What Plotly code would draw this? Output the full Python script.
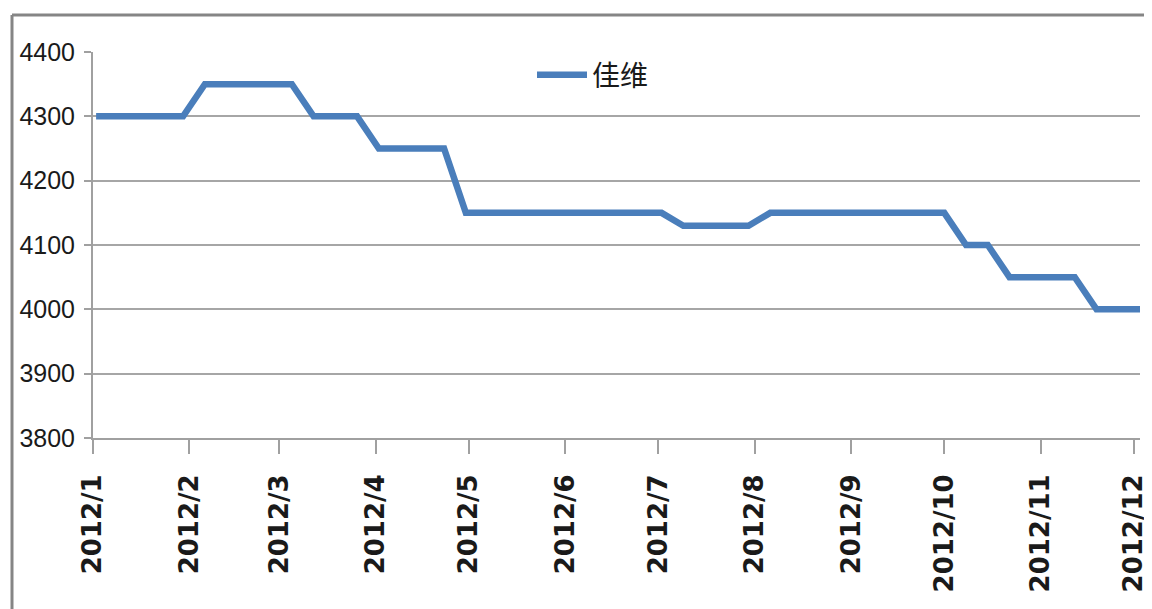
import plotly.graph_objects as go

series_name = "佳维"
dates = [
    "2012-01-02", "2012-01-09", "2012-01-16", "2012-01-23", "2012-01-30",
    "2012-02-06", "2012-02-13", "2012-02-20", "2012-02-27", "2012-03-05",
    "2012-03-12", "2012-03-19", "2012-03-26",
    "2012-04-02", "2012-04-09", "2012-04-16", "2012-04-23",
    "2012-04-30", "2012-05-07", "2012-05-14", "2012-05-21", "2012-05-28",
    "2012-06-04", "2012-06-11", "2012-06-18", "2012-06-25", "2012-07-02",
    "2012-07-09", "2012-07-16", "2012-07-23", "2012-07-30",
    "2012-08-06", "2012-08-13", "2012-08-20", "2012-08-27", "2012-09-03",
    "2012-09-10", "2012-09-17", "2012-09-24", "2012-10-01",
    "2012-10-08", "2012-10-15",
    "2012-10-22", "2012-10-29", "2012-11-05", "2012-11-12",
    "2012-11-19", "2012-11-26", "2012-12-03",
]
values = [
    4300, 4300, 4300, 4300, 4300,
    4350, 4350, 4350, 4350, 4350,
    4300, 4300, 4300,
    4250, 4250, 4250, 4250,
    4150, 4150, 4150, 4150, 4150,
    4150, 4150, 4150, 4150, 4150,
    4130, 4130, 4130, 4130,
    4150, 4150, 4150, 4150, 4150,
    4150, 4150, 4150, 4150,
    4100, 4100,
    4050, 4050, 4050, 4050,
    4000, 4000, 4000,
]
tick_dates = ["2012-01-01", "2012-02-01", "2012-03-01", "2012-04-01",
              "2012-05-01", "2012-06-01", "2012-07-01", "2012-08-01",
              "2012-09-01", "2012-10-01", "2012-11-01", "2012-12-01"]
tick_labels = ["2012/1", "2012/2", "2012/3", "2012/4", "2012/5", "2012/6",
               "2012/7", "2012/8", "2012/9", "2012/10", "2012/11", "2012/12"]

fig = go.Figure()
fig.add_trace(go.Scatter(
    x=dates, y=values, mode="lines", name=series_name,
    line=dict(color="#4a7ebb", width=6.5),
))

# page is rendered with an 8px body margin; work in page pixels and convert
OFF = 8
W, H = 1152 - OFF, 609 - OFF
L, R, T, B = 93 - OFF, 12, 52 - OFF, 171
pw, ph = W - L - R, H - T - B

def px_x(x):
    return (x - OFF - L) / pw

def px_y(y):
    return (H - B - (y - OFF)) / ph

fig.update_layout(
    width=W, height=H,
    margin=dict(l=L, r=R, t=T, b=B, autoexpand=False),
    paper_bgcolor="white", plot_bgcolor="white",
    showlegend=True,
    legend=dict(
        x=px_x(532), y=px_y(50), xanchor="left", yanchor="top",
        orientation="h", bgcolor="rgba(0,0,0,0)",
        font=dict(family="Noto Sans CJK SC", size=28, color="#1a1a1a"),
        itemwidth=50,
    ),
    xaxis=dict(
        type="date", automargin=False,
        range=["2012-01-01", "2012-12-03"],
        tickvals=tick_dates, ticktext=tick_labels,
        tickangle=-90,
        showgrid=False,
        showline=True, linecolor="#a0a0a0", linewidth=2,
        ticks="outside", ticklen=14, tickcolor="#a0a0a0", tickwidth=2,
        tickfont=dict(family="DejaVu Sans", size=26, color="#1a1a1a", weight="bold"),
        ticklabelstandoff=10,
        zeroline=False,
    ),
    yaxis=dict(
        automargin=False,
        range=[3800, 4400], dtick=100, tick0=3800,
        showgrid=True, gridcolor="#a6a6a6", gridwidth=2,
        showline=True, linecolor="#a0a0a0", linewidth=2,
        ticks="outside", ticklen=7, tickcolor="#a0a0a0", tickwidth=2,
        tickfont=dict(family="Liberation Sans", size=25, color="#1a1a1a"),
        ticklabelstandoff=4,
        zeroline=False,
    ),
    shapes=[
        dict(type="line", xref="paper", yref="paper",
             x0=px_x(12), x1=px_x(1170), y0=px_y(15), y1=px_y(15),
             line=dict(color="#858585", width=3)),
        dict(type="line", xref="paper", yref="paper",
             x0=px_x(12), x1=px_x(12), y0=px_y(15), y1=px_y(620),
             line=dict(color="#858585", width=3)),
    ],
)

fig.write_html("out.html")
